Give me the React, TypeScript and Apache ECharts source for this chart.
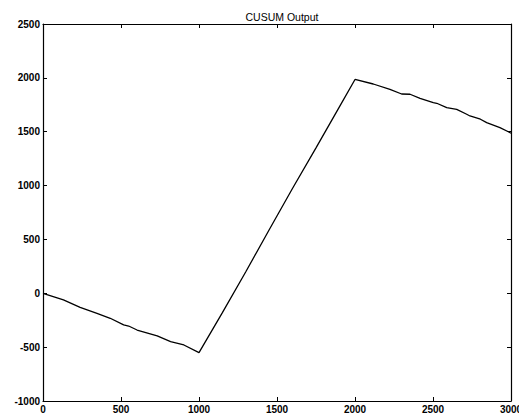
import React, { useEffect, useRef } from "react";
import * as echarts from "echarts";

const sampleX: number[] = [
  0, 131, 238, 346, 431, 517, 549, 603, 732, 818, 903, 1000,
  1150, 1300, 1450, 1600, 1750, 1900, 2000,
  2117, 2224, 2299, 2353, 2417, 2502, 2524, 2588, 2652, 2716, 2737, 2804, 2844, 2929, 2983, 3000,
];
const cusum: number[] = [
  0, -62, -130, -186, -232, -294, -304, -341, -396, -449, -480, -551,
  -180, 200, 590, 975, 1350, 1730, 1985,
  1943, 1894, 1850, 1848, 1810, 1770, 1764, 1723, 1708, 1662, 1646, 1616, 1584, 1538, 1500, 1486,
];
const titleText = "CUSUM Output";

export default function App() {
  const ref = useRef<HTMLDivElement>(null);
  useEffect(() => {
    if (!ref.current) return;
    const chart = echarts.init(ref.current, null, { renderer: "svg" });
    const labelStyle = {
      color: "#000",
      fontSize: 10,
      fontWeight: "bold" as const,
      fontFamily: "Liberation Sans, Arial, sans-serif",
      formatter: (v: number) => String(v),
    };
    const lineStyle = { color: "#000", width: 1.2 };
    chart.setOption({
      animation: false,
      backgroundColor: "#fff",
      title: {
        text: titleText,
        left: 277,
        textAlign: "center",
        top: 6,
        textStyle: {
          color: "#000",
          fontSize: 10.5,
          fontWeight: "normal",
          fontFamily: "Liberation Sans, Arial, sans-serif",
        },
      },
      grid: {
        left: 43,
        right: 8,
        top: 24,
        bottom: 16,
        containLabel: false,
        outerBoundsMode: "none",
      },
      xAxis: [
        {
          type: "value",
          min: 0,
          max: 3000,
          interval: 500,
          position: "bottom",
          axisLine: { show: true, onZero: false, lineStyle },
          axisTick: { show: true, inside: true, length: 4, lineStyle: { color: "#000" } },
          axisLabel: { ...labelStyle, margin: 3 },
          splitLine: { show: false },
        },
        {
          type: "value",
          min: 0,
          max: 3000,
          interval: 500,
          position: "top",
          axisLine: { show: true, onZero: false, lineStyle },
          axisTick: { show: true, inside: true, length: 4, lineStyle: { color: "#000" } },
          axisLabel: { show: false },
          splitLine: { show: false },
        },
      ],
      yAxis: [
        {
          type: "value",
          min: -1000,
          max: 2500,
          interval: 500,
          position: "left",
          axisLine: { show: true, onZero: false, lineStyle },
          axisTick: { show: true, inside: true, length: 4, lineStyle: { color: "#000" } },
          axisLabel: { ...labelStyle, margin: 3 },
          splitLine: { show: false },
        },
        {
          type: "value",
          min: -1000,
          max: 2500,
          interval: 500,
          position: "right",
          axisLine: { show: true, onZero: false, lineStyle },
          axisTick: { show: true, inside: true, length: 4, lineStyle: { color: "#000" } },
          axisLabel: { show: false },
          splitLine: { show: false },
        },
      ],
      series: [
        {
          type: "line",
          data: sampleX.map((x, i) => [x, cusum[i]]),
          showSymbol: false,
          symbol: "none",
          lineStyle: { color: "#000", width: 1.3 },
          xAxisIndex: 0,
          yAxisIndex: 0,
        },
      ],
    });
    return () => chart.dispose();
  }, []);
  return (
    <div
      ref={ref}
      style={{ position: "absolute", left: 0, top: 0, width: 519, height: 417 }}
    />
  );
}
